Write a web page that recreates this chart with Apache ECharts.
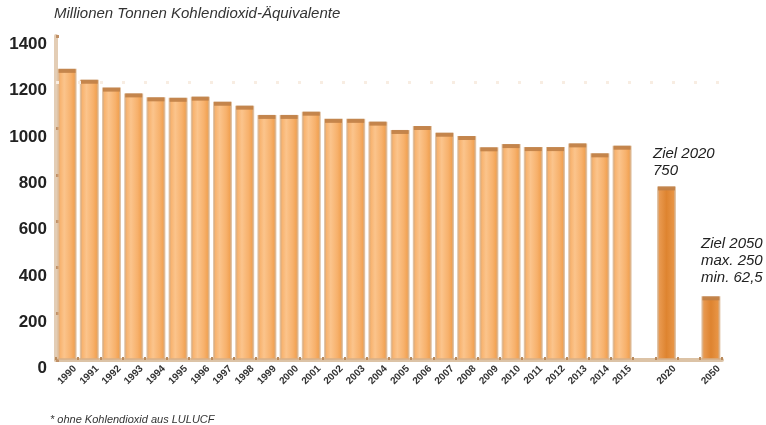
<!DOCTYPE html>
<html>
<head>
<meta charset="utf-8">
<script src="https://cdn.jsdelivr.net/npm/echarts@6/dist/echarts.min.js"></script>
<style>
html,body{margin:0;padding:0;background:#fff;}
#c{width:766px;height:425px;}
</style>
</head>
<body>
<div id="c"></div>
<script>
// ---- data ----
const years = ['1990','1991','1992','1993','1994','1995','1996','1997','1998','1999','2000','2001','2002','2003','2004','2005','2006','2007','2008','2009','2010','2011','2012','2013','2014','2015'];
const emissions = [1258,1211,1177,1152,1135,1133,1138,1116,1099,1059,1059,1073,1042,1042,1030,994,1011,982,968,919,933,920,920,936,893,926];
const targetCategories = ['', '2020', ' ', '2050'];
const targetValues = [null, 750, null, 275];
const yTicks = [0,200,400,600,800,1000,1200,1400];
const titleText = 'Millionen Tonnen Kohlendioxid-Äquivalente';
const footnoteText = '* ohne Kohlendioxid aus LULUCF';
const note2020 = ['Ziel 2020', '750'];
const note2050 = ['Ziel 2050', 'max. 250', 'min. 62,5'];

const categories = years.concat(targetCategories);
const values = emissions.concat(targetValues);

const normalFill = new echarts.graphic.LinearGradient(0,0,1,0,[
  {offset:0,color:'#f6a95e'},{offset:0.35,color:'#fbc48c'},{offset:0.7,color:'#f7b16c'},{offset:1,color:'#ee9944'}]);
const targetFill = new echarts.graphic.LinearGradient(0,0,1,0,[
  {offset:0,color:'#eca05a'},{offset:0.5,color:'#de8430'},{offset:1,color:'#eb9a4c'}]);

const barData = values.map((v,i)=>{
  if (v === null) return null;
  const isTarget = i >= years.length;
  return {value:v, itemStyle:{color: isTarget ? targetFill : normalFill}};
});

const chart = echarts.init(document.getElementById('c'), null, {renderer:'canvas'});
chart.setOption({
  animation:false,
  backgroundColor:'#ffffff',
  grid:{left:56, right:44, top:36, bottom:65, containLabel:false},
  xAxis:{
    type:'category',
    data:categories,
    boundaryGap:true,
    axisLine:{show:true, lineStyle:{color:'#dcc3a6', width:4}},
    axisTick:{show:true, alignWithLabel:false, length:3, inside:true, lineStyle:{color:'#b98a5c', width:2}},
    axisLabel:{
      interval:0, rotate:45, margin:15, align:'center', verticalAlign:'middle',
      fontFamily:'Liberation Sans, Arial, sans-serif', fontWeight:'bold', fontSize:10, color:'#333'
    },
    splitLine:{show:false}
  },
  yAxis:{
    type:'value', min:0, max:1400, interval:200,
    axisLine:{show:true, lineStyle:{color:'#e3cdb5', width:4}},
    axisTick:{show:true, length:3, inside:true, lineStyle:{color:'#c09066', width:3}},
    axisLabel:{
      margin:9, verticalAlign:'top',
      fontFamily:'Liberation Sans, Arial, sans-serif', fontWeight:'bold', fontSize:17, color:'#222',
      formatter:(v)=> yTicks.indexOf(v) >= 0 ? String(v) : ''
    },
    splitLine:{show:false}
  },
  series:[
    {
      type:'bar',
      data:barData,
      barWidth:19,
      itemStyle:{borderColor:'rgba(215,175,135,0.75)', borderWidth:2},
      markLine:{
        silent:true, symbol:'none', label:{show:false},
        lineStyle:{color:'#f8ede2', width:3, type:[3,19]},
        data:[{yAxis:1200}]
      },
      z:2
    },
    {
      type:'pictorialBar',
      data:values,
      symbol:'rect',
      symbolSize:[17,4],
      symbolPosition:'end',
      itemStyle:{color:'#c08046', opacity:0.9},
      z:3
    }
  ],
  graphic:[
    {type:'text', left:54, top:6, style:{text:titleText, font:'italic 15px "Liberation Sans", Arial, sans-serif', fill:'#333'}},
    {type:'text', left:50, top:414, style:{text:footnoteText, font:'italic 11px "Liberation Sans", Arial, sans-serif', fill:'#333'}},
    {type:'text', left:653, top:145, style:{text:note2020.join('\n'), font:'italic 15px "Liberation Sans", Arial, sans-serif', lineHeight:17, fill:'#222'}},
    {type:'text', left:701, top:235, style:{text:note2050.join('\n'), font:'italic 15px "Liberation Sans", Arial, sans-serif', lineHeight:17, fill:'#222'}}
  ]
});
</script>
</body>
</html>
